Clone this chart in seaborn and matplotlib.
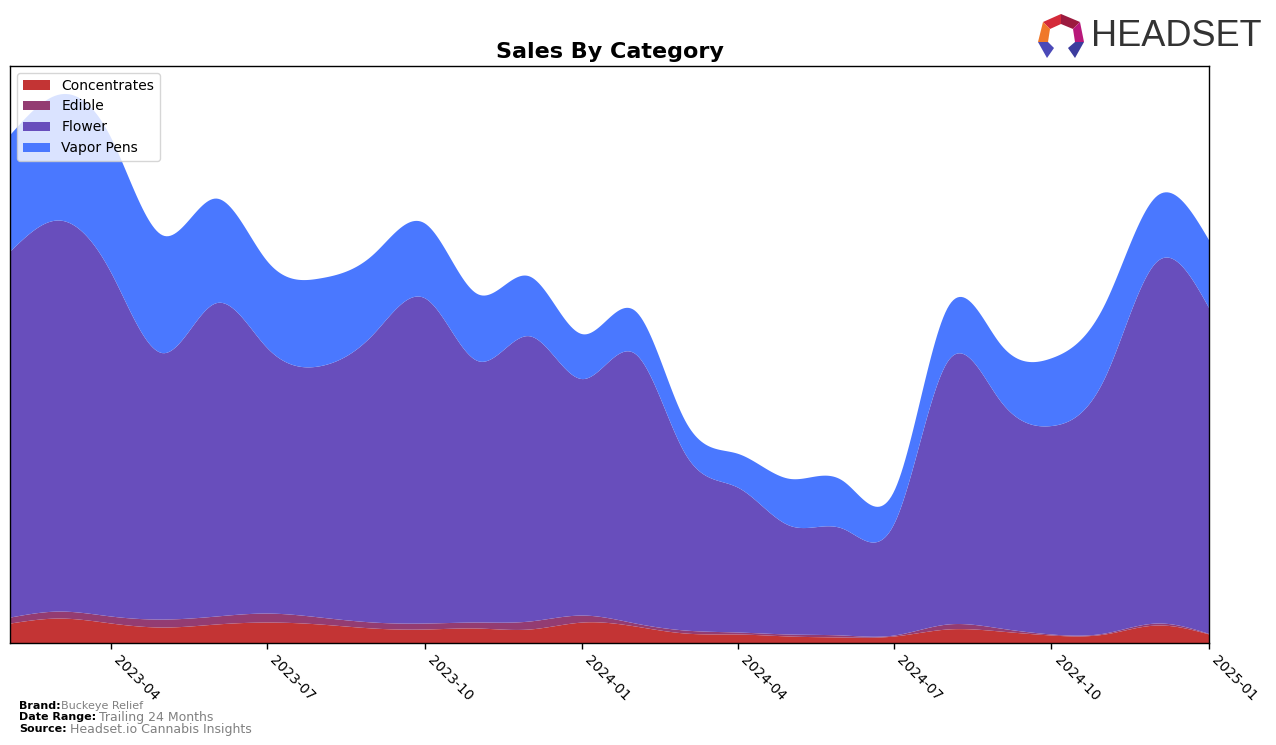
import numpy as np
import pandas as pd
import matplotlib
matplotlib.use("Agg")
import matplotlib.pyplot as plt
import matplotlib.dates as mdates
from matplotlib.patches import Polygon
import seaborn as sns

# ---- data (monthly, arbitrary sales units) ----
months = pd.date_range("2023-02-01", "2025-01-01", freq="MS")
categories = ["Concentrates", "Edible", "Flower", "Vapor Pens"]
concentrates = [20, 25, 20, 16, 19, 21, 19, 15, 14, 15, 14, 21, 17, 10, 9, 7, 6, 7, 14, 12, 8, 9, 18, 9]
edible = [6, 7, 7, 8, 8, 9, 7, 6, 6, 6, 8, 7, 3, 3, 2, 2, 2, 1, 5, 3, 1, 1, 2, 0.5]
flower = [367, 392, 344, 267, 314, 266, 252, 289, 326, 262, 286, 237, 270, 177, 145, 109, 107, 112, 263, 228, 209, 256, 362, 326]
vapor_pens = [117, 126, 135, 118, 105, 87, 88, 80, 75, 67, 60, 45, 43, 33, 34, 47, 48, 33, 54, 57, 68, 74, 66, 68]
colors = ["#C33434", "#933C72", "#684EBC", "#4A78FF"]


def smooth_curve(x, y, xs):
    """Natural cubic spline used only to draw a smooth outline."""
    x = np.asarray(x, float); y = np.asarray(y, float)
    n = len(x); h = np.diff(x)
    A = np.zeros((n, n)); b = np.zeros(n)
    A[0, 0] = 1; A[-1, -1] = 1
    for i in range(1, n - 1):
        A[i, i - 1] = h[i - 1]; A[i, i] = 2 * (h[i - 1] + h[i]); A[i, i + 1] = h[i]
        b[i] = 6 * ((y[i + 1] - y[i]) / h[i] - (y[i] - y[i - 1]) / h[i - 1])
    M = np.linalg.solve(A, b)
    k = np.clip(np.searchsorted(x, xs) - 1, 0, n - 2)
    hk = h[k]; t1 = x[k + 1] - xs; t0 = xs - x[k]
    return (M[k] * t1 ** 3 / (6 * hk) + M[k + 1] * t0 ** 3 / (6 * hk)
            + (y[k] / hk - M[k] * hk / 6) * t1 + (y[k + 1] / hk - M[k + 1] * hk / 6) * t0)


sns.set_style("white", rc={"axes.edgecolor": "black", "text.color": "black",
                           "xtick.color": "black", "ytick.color": "black",
                           "axes.labelcolor": "black"})
plt.rcParams["font.family"] = ["DejaVu Sans"]
palette = sns.color_palette(colors)

fig = plt.figure(figsize=(12.76, 7.45), dpi=100)
ax = fig.add_axes([10 / 1276, 1 - 643 / 745, 1199 / 1276, 577 / 745])

xnum = mdates.date2num(months.to_pydatetime())
xs = np.linspace(xnum[0], xnum[-1], 600)
series = [concentrates, edible, flower, vapor_pens]
smoothed = [np.clip(smooth_curve(xnum, s, xs), 0, None) for s in series]
ax.stackplot(xs, *smoothed, labels=categories, colors=palette, linewidth=0)

ax.set_xlim(xnum[0], xnum[-1])
ax.set_ylim(0, max(np.sum(smoothed, axis=0)) * 1.05)
ax.set_yticks([])
ax.xaxis.set_major_locator(mdates.MonthLocator(bymonth=[1, 4, 7, 10]))
ax.xaxis.set_major_formatter(mdates.DateFormatter("%Y-%m"))
ax.tick_params(axis="x", which="major", length=4, width=1, direction="out", bottom=True, labelsize=10)
for lab in ax.get_xticklabels():
    lab.set_rotation(-45)
    lab.set_ha("left")
for sp in ax.spines.values():
    sp.set_color("black"); sp.set_linewidth(1)

ax.set_title("Sales By Category", fontsize=16, fontweight="bold", pad=6)
leg = ax.legend(loc="upper left", fontsize=10, frameon=True, framealpha=0.8,
                borderaxespad=0.5)

# footer
fig.text(19 / 1276, 1 - 706 / 745, "Brand:", fontsize=8, fontweight="bold", va="center")
fig.text(61 / 1276, 1 - 706 / 745, "Buckeye Relief", fontsize=8, color="gray", va="center")
fig.text(19 / 1276, 1 - 717 / 745, "Date Range:", fontsize=8, fontweight="bold", va="center")
fig.text(99 / 1276, 1 - 717 / 745, "Trailing 24 Months", fontsize=9, color="gray", va="center")
fig.text(19 / 1276, 1 - 729 / 745, "Source:", fontsize=8, fontweight="bold", va="center")
fig.text(70 / 1276, 1 - 729 / 745, "Headset.io Cannabis Insights", fontsize=9, color="gray", va="center")

# logo
def P(pts):
    return [(px / 1276, 1 - py / 745) for px, py in pts]
logo = [
    ([(1043, 22), (1061, 14), (1061, 24), (1050, 29)], "#D42A3A"),
    ([(1061, 14), (1080, 22), (1073, 29), (1061, 24)], "#9C1B3F"),
    ([(1038, 42), (1043, 22), (1050, 29), (1048, 42)], "#F0782A"),
    ([(1080, 22), (1084, 42), (1075, 42), (1073, 29)], "#B8187A"),
    ([(1038, 42), (1048, 42), (1054, 48), (1047, 58)], "#4B49B8"),
    ([(1084, 42), (1075, 42), (1068, 48), (1075, 58)], "#3C3C9E"),
]
for pts, c in logo:
    fig.patches.append(Polygon(P(pts), closed=True, transform=fig.transFigure,
                               facecolor=c, edgecolor="none"))
fig.text(1091 / 1276, 1 - 37 / 745, "HEADSET", fontsize=26, color="#333333",
         family=["Liberation Sans", "DejaVu Sans"], va="center", ha="left")

fig.savefig("out.png", dpi=100)
